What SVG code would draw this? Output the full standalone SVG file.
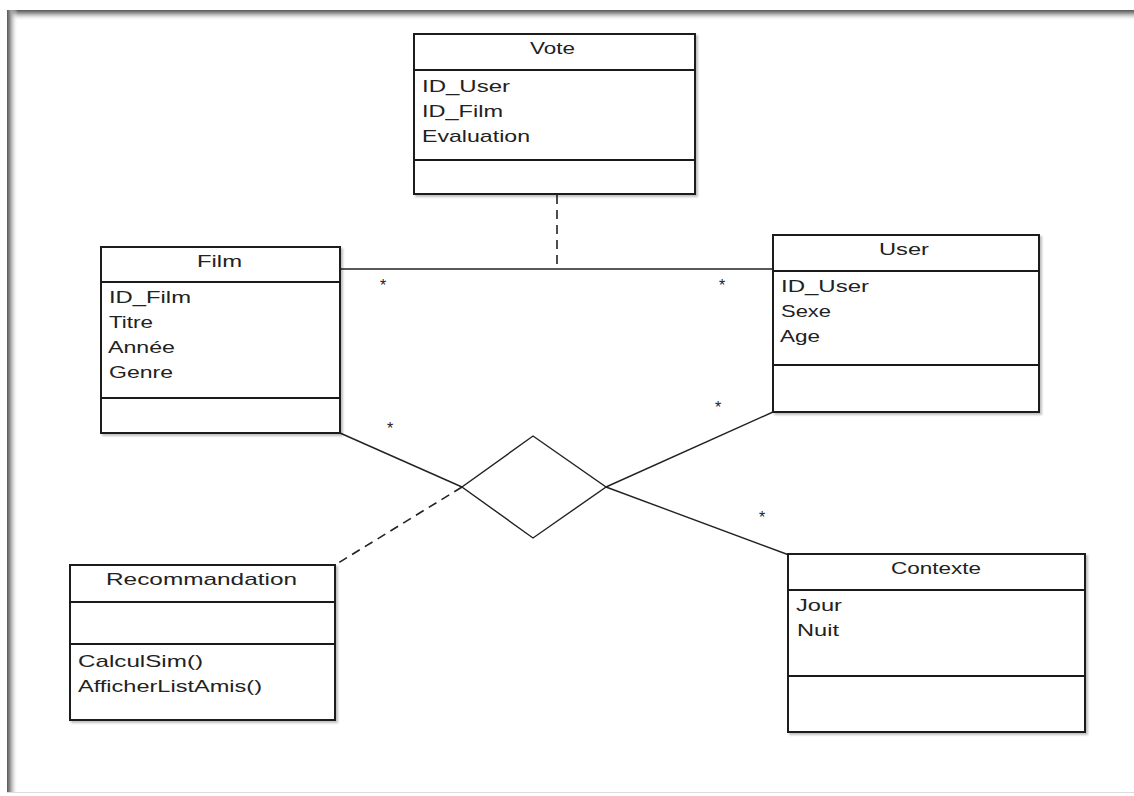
<svg xmlns="http://www.w3.org/2000/svg" width="1134" height="796" viewBox="0 0 1134 796">
<defs>
<linearGradient id="gTop" x1="0" y1="0" x2="0" y2="1"><stop offset="0" stop-color="#555"/><stop offset="0.3" stop-color="#999"/><stop offset="1" stop-color="#fff" stop-opacity="0"/></linearGradient>
<linearGradient id="gLeft" x1="0" y1="0" x2="1" y2="0"><stop offset="0" stop-color="#555"/><stop offset="0.3" stop-color="#999"/><stop offset="1" stop-color="#fff" stop-opacity="0"/></linearGradient>
<filter id="sh" x="-5%" y="-5%" width="110%" height="110%"><feDropShadow dx="2" dy="2" stdDeviation="1.2" flood-color="#000" flood-opacity="0.25"/></filter>
</defs>
<style>
.box{fill:#fff;stroke:#1a1a1a;stroke-width:2;filter:url(#sh)}
.div{stroke:#1a1a1a;stroke-width:2}
text{font-family:"Liberation Sans",Arial,sans-serif;font-size:17px;fill:#222}
.t{text-anchor:start}
.ln{stroke:#222;stroke-width:1.4;fill:none}
.dash{stroke:#222;stroke-width:1.6;fill:none;stroke-dasharray:9,6}
.star{font-size:16px}
</style>
<rect x="0" y="0" width="1134" height="796" fill="#fff"/>
<g id="frame">
<rect x="7" y="10" width="1127" height="11" fill="url(#gTop)"/>
<rect x="7" y="10" width="11" height="782" fill="url(#gLeft)"/>
<line x1="7" y1="792.5" x2="1134" y2="792.5" stroke="#ddd" stroke-width="1"/>
</g>
<g id="connectors">
<line class="ln" x1="340" y1="269" x2="773" y2="269"/>
<line class="dash" x1="557" y1="195" x2="557" y2="269"/>
<polygon class="ln" points="533,436 606,487 533,538 462,487"/>
<line class="ln" x1="340" y1="433" x2="462" y2="487"/>
<line class="ln" x1="606" y1="487" x2="789" y2="555"/>
<line class="ln" x1="773" y1="412" x2="606" y2="487"/>
<line class="dash" x1="462" y1="487" x2="335" y2="565"/>
<text class="star" x="383" y="291" text-anchor="middle">*</text>
<text class="star" x="722" y="291" text-anchor="middle">*</text>
<text class="star" x="390" y="434" text-anchor="middle">*</text>
<text class="star" x="718" y="413" text-anchor="middle">*</text>
<text class="star" x="762" y="523" text-anchor="middle">*</text>
</g>
<g id="vote">
<rect class="box" x="414" y="34" width="281" height="160"/>
<line class="div" x1="414" y1="70" x2="695" y2="70"/>
<line class="div" x1="414" y1="160" x2="695" y2="160"/>
<text x="530" y="54" textLength="45" lengthAdjust="spacingAndGlyphs">Vote</text>
<text x="422" y="92" textLength="88" lengthAdjust="spacingAndGlyphs">ID_User</text>
<text x="422" y="117" textLength="81" lengthAdjust="spacingAndGlyphs">ID_Film</text>
<text x="422" y="142" textLength="108" lengthAdjust="spacingAndGlyphs">Evaluation</text>
</g>
<g id="film">
<rect class="box" x="101" y="247" width="239" height="186"/>
<line class="div" x1="101" y1="282" x2="340" y2="282"/>
<line class="div" x1="101" y1="398" x2="340" y2="398"/>
<text x="197" y="267" textLength="45" lengthAdjust="spacingAndGlyphs">Film</text>
<text x="109" y="303" textLength="82" lengthAdjust="spacingAndGlyphs">ID_Film</text>
<text x="109" y="328" textLength="44" lengthAdjust="spacingAndGlyphs">Titre</text>
<text x="108" y="353" textLength="67" lengthAdjust="spacingAndGlyphs">Année</text>
<text x="109" y="378" textLength="64" lengthAdjust="spacingAndGlyphs">Genre</text>
</g>
<g id="user">
<rect class="box" x="773" y="235" width="266" height="177"/>
<line class="div" x1="773" y1="271" x2="1039" y2="271"/>
<line class="div" x1="773" y1="365" x2="1039" y2="365"/>
<text x="879" y="255" textLength="50" lengthAdjust="spacingAndGlyphs">User</text>
<text x="781" y="292" textLength="88" lengthAdjust="spacingAndGlyphs">ID_User</text>
<text x="781" y="317" textLength="50" lengthAdjust="spacingAndGlyphs">Sexe</text>
<text x="780" y="342" textLength="40" lengthAdjust="spacingAndGlyphs">Age</text>
</g>
<g id="recommandation">
<rect class="box" x="70" y="565" width="265" height="155"/>
<line class="div" x1="70" y1="602" x2="335" y2="602"/>
<line class="div" x1="70" y1="644" x2="335" y2="644"/>
<text x="106" y="585" textLength="191" lengthAdjust="spacingAndGlyphs">Recommandation</text>
<text x="78" y="667" textLength="125" lengthAdjust="spacingAndGlyphs">CalculSim()</text>
<text x="78" y="692" textLength="184" lengthAdjust="spacingAndGlyphs">AfficherListAmis()</text>
</g>
<g id="contexte">
<rect class="box" x="788" y="554" width="297" height="178"/>
<line class="div" x1="788" y1="590" x2="1085" y2="590"/>
<line class="div" x1="788" y1="676" x2="1085" y2="676"/>
<text x="891" y="574" textLength="90" lengthAdjust="spacingAndGlyphs">Contexte</text>
<text x="796" y="611" textLength="46" lengthAdjust="spacingAndGlyphs">Jour</text>
<text x="797" y="636" textLength="42" lengthAdjust="spacingAndGlyphs">Nuit</text>
</g>
</svg>
